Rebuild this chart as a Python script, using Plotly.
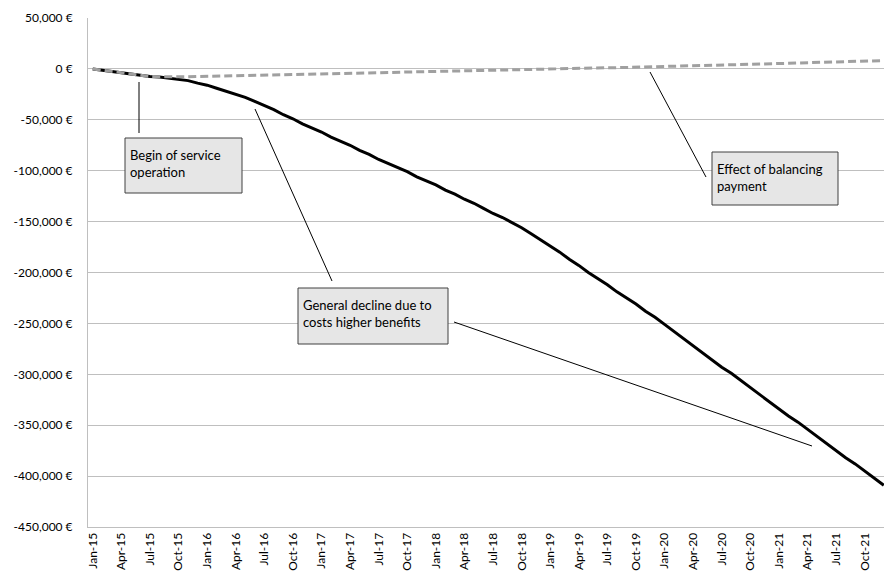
import plotly.graph_objects as go

# ---------------- data ----------------
years = ["15", "16", "17", "18", "19", "20", "21"]
month_names = ["Jan", "Feb", "Mar", "Apr", "May", "Jun",
               "Jul", "Aug", "Sep", "Oct", "Nov", "Dec"]
categories = [f"{m}-{y}" for y in years for m in month_names]

tick_labels = ["Jan-15", "Apr-15", "Jul-15", "Oct-15", "Jan-16", "Apr-16", "Jul-16",
               "Oct-16", "Jan-17", "Apr-17", "Jul-17", "Oct-17", "Jan-18", "Apr-18",
               "Jul-18", "Oct-18", "Jan-19", "Apr-19", "Jul-19", "Oct-19", "Jan-20",
               "Apr-20", "Jul-20", "Oct-20", "Jan-21", "Apr-21", "Jul-21", "Oct-21"]

# cumulative balance without balancing payment (solid black)
without_payment = [
    0, -1200, -2500, -3500, -5000, -6500, -7500, -8000, -9000, -10000, -11500, -14000,
    -16000, -19000, -22000, -25000, -28000, -32000, -36000, -40000, -45000, -49000, -54000, -58000,
    -62000, -67000, -71000, -75000, -80000, -84000, -89000, -93000, -97000, -101000, -106000, -110000,
    -114000, -119000, -123000, -128000, -132000, -137000, -142000, -146000, -151000, -156000, -162000, -168000,
    -174000, -180000, -187000, -193000, -200000, -206000, -212000, -219000, -225000, -231000, -238000, -244000,
    -251000, -258000, -265000, -272000, -279000, -286000, -293000, -299000, -306000, -313000, -320000, -327000,
    -334000, -341000, -347000, -354000, -361000, -368000, -375000, -382000, -388000, -395000, -402000, -409000,
]

# cumulative balance with balancing payment (grey dashed)
with_payment = [
    0, -1200, -2500, -3500, -5000, -6500, -7500, -7800, -8000, -8000, -7800, -7500,
    -7300, -7000, -6800, -6600, -6400, -6100, -5800, -5500, -5200, -5000, -4800, -4600,
    -4400, -4200, -4000, -3800, -3600, -3400, -3200, -3000, -2800, -2700, -2500, -2400,
    -2200, -2100, -1900, -1800, -1600, -1400, -1200, -1000, -800, -600, -400, -200,
    0, 200, 400, 600, 800, 1000, 1100, 1200, 1400, 1500, 1700, 2000,
    2200, 2500, 2800, 3000, 3300, 3500, 3800, 4000, 4300, 4500, 4800, 5000,
    5300, 5500, 5800, 6000, 6300, 6500, 6800, 7000, 7300, 7600, 7900, 8200,
]

y_ticks = [50000, 0, -50000, -100000, -150000, -200000, -250000,
           -300000, -350000, -400000, -450000]
y_tick_labels = ["50,000 €", "0 €", "-50,000 €", "-100,000 €", "-150,000 €", "-200,000 €",
                 "-250,000 €", "-300,000 €", "-350,000 €", "-400,000 €", "-450,000 €"]

# ---------------- layout geometry (pixels) ----------------
W, H = 884, 573
L, R, T, B = 88, 884, 18, 527
FONT = "Lato"


def px(x):
    return (x - L) / (R - L)


def py(y):
    return (B - y) / (B - T)


fig = go.Figure()
fig.add_trace(go.Scatter(
    x=categories, y=without_payment, mode="lines",
    line=dict(color="#000000", width=3), showlegend=False))
fig.add_trace(go.Scatter(
    x=categories, y=with_payment, mode="lines",
    line=dict(color="#A0A0A0", width=3, dash="8px,4px"), showlegend=False))

shapes = []
annotations = []

# callout boxes: (x0, y0, x1, y1, text, text_x, text_y)
boxes = [
    (125, 138, 242, 193, "Begin of service<br>operation", 128, 145),
    (298, 288, 448, 344, "General decline due to<br>costs higher benefits", 301, 295),
    (712, 152, 838, 205, "Effect of balancing<br>payment", 715, 159),
]
for x0, y0, x1, y1, text, tx, ty in boxes:
    shapes.append(dict(type="rect", xref="paper", yref="paper",
                       x0=px(x0), x1=px(x1), y0=py(y1), y1=py(y0),
                       fillcolor="#E6E6E6", line=dict(color="#404040", width=1),
                       layer="above"))
    annotations.append(dict(xref="paper", yref="paper", x=px(tx), y=py(ty),
                            xanchor="left", yanchor="top", align="left",
                            text=text, showarrow=False,
                            font=dict(family=FONT, size=13, color="#000000")))

# callout lines
lines = [
    (139, 82, 139, 133),
    (255, 109, 332, 281),
    (454, 322, 812, 446),
    (650, 72, 706, 177),
]
for x0, y0, x1, y1 in lines:
    shapes.append(dict(type="line", xref="paper", yref="paper",
                       x0=px(x0), y0=py(y0), x1=px(x1), y1=py(y1),
                       line=dict(color="#000000", width=1), layer="above"))

fig.update_layout(
    width=W, height=H,
    margin=dict(l=L, r=W - R, t=T, b=H - B, pad=0),
    paper_bgcolor="white", plot_bgcolor="white",
    font=dict(family=FONT, size=12, color="#000000"),
    shapes=shapes, annotations=annotations,
    xaxis=dict(
        type="category", range=[-0.5, -0.5 + (R - L) / 9.53],
        tickmode="array", tickvals=tick_labels, ticktext=tick_labels,
        tickangle=-90, showgrid=False, zeroline=False,
        showline=True, linecolor="#BFBFBF", linewidth=1,
        ticks="", tickfont=dict(family=FONT, size=12, color="#000000"),
        fixedrange=True,
    ),
    yaxis=dict(
        range=[-450000, 50000], tickmode="array", tickvals=y_ticks,
        ticktext=y_tick_labels, showgrid=True, gridcolor="#BFBFBF", gridwidth=1,
        zeroline=False, showline=True, linecolor="#BFBFBF", linewidth=1,
        ticks="", ticklabelstandoff=12,
        tickfont=dict(family=FONT, size=12, color="#000000"),
        fixedrange=True,
    ),
)

fig.write_html("out.html", config={"displayModeBar": False})
